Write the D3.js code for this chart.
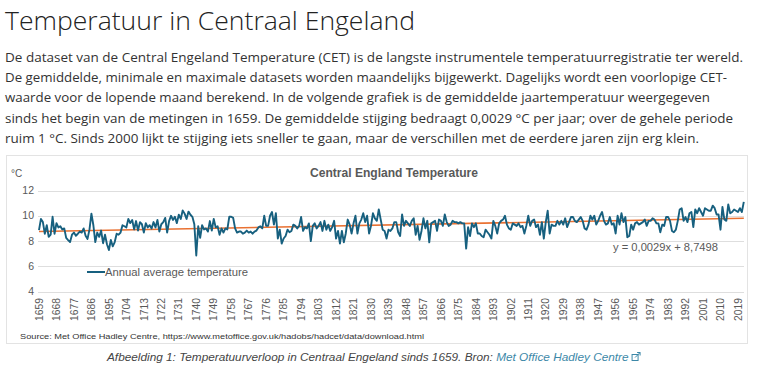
<!DOCTYPE html>
<html>
<head>
<meta charset="utf-8">
<script src="https://cdn.jsdelivr.net/npm/d3@7"></script>
<style>
  html, body { margin: 0; padding: 0; background: #fff; }
  svg { display: block; }
</style>
</head>
<body>
<div id="page"></div>
<script>
// jaren en jaargemiddelden (CET)
var firstYear = 1659;
var temps = [
  8.87, 9.75, 9.50, 8.58, 9.25, 8.33, 8.50, 9.92, 8.58, 9.42,   // 1659-1668
  9.08, 9.17, 8.92, 9.00, 8.25, 8.08, 7.92, 8.50, 8.67, 8.42,   // 1669-1678
  8.58, 8.75, 8.67, 9.00, 8.42, 8.17, 8.92, 10.17, 9.25, 7.92,  // 1679-1688
  8.67, 8.33, 8.83, 7.83, 8.50, 7.75, 7.29, 8.08, 7.58, 7.92,   // 1689-1698
  8.58, 8.50, 8.67, 9.25, 9.17, 9.08, 9.75, 9.42, 9.67, 8.92,   // 1699-1708
  9.58, 8.83, 9.50, 9.33, 8.67, 9.42, 9.08, 9.25, 9.00, 9.50,   // 1709-1718
  9.08, 9.67, 8.75, 9.33, 9.50, 9.83, 8.67, 9.58, 10.00, 9.67,  // 1719-1728
  9.92, 9.42, 10.08, 9.75, 10.42, 10.17, 9.75, 10.33, 10.08, 9.92, // 1729-1738
  9.33, 6.86, 9.17, 8.25, 9.25, 8.92, 9.00, 8.75, 9.58, 8.83,   // 1739-1748
  9.75, 9.08, 9.17, 8.50, 9.00, 8.67, 9.00, 8.92, 9.92, 9.92,   // 1749-1758
  9.83, 9.00, 8.67, 8.75, 8.75, 8.58, 8.67, 8.83, 8.67, 8.75,   // 1759-1768
  8.58, 8.75, 8.83, 9.08, 9.17, 9.00, 10.00, 9.20, 9.20, 10.00, // 1769-1778
  10.30, 9.30, 10.20, 8.20, 8.90, 7.80, 8.20, 8.40, 8.90, 8.70, // 1779-1788
  8.80, 9.30, 9.20, 9.00, 9.20, 9.90, 8.80, 9.10, 9.00, 9.40,   // 1789-1798
  8.00, 9.20, 9.40, 9.00, 9.20, 9.50, 8.80, 9.60, 8.90, 9.30,   // 1799-1808
  8.80, 9.10, 9.60, 8.20, 8.80, 7.80, 8.80, 7.90, 8.60, 9.70,   // 1809-1818
  9.30, 8.60, 9.40, 10.00, 8.60, 9.40, 9.70, 10.20, 9.50, 10.00, // 1819-1828
  8.60, 9.20, 10.20, 9.80, 9.60, 10.50, 9.70, 8.90, 8.80, 8.20, // 1829-1838
  8.90, 8.80, 9.00, 9.50, 9.50, 8.70, 8.40, 10.10, 9.20, 9.60,  // 1839-1848
  9.40, 9.20, 9.60, 9.80, 8.50, 9.20, 8.10, 8.80, 9.80, 9.00,   // 1849-1858
  9.60, 7.90, 9.40, 9.50, 9.60, 8.80, 9.70, 9.60, 9.20, 10.10,  // 1859-1868
  9.50, 9.20, 9.30, 9.60, 9.50, 9.50, 9.40, 9.50, 9.40, 9.40,   // 1869-1878
  7.40, 9.10, 8.40, 9.40, 9.10, 9.40, 8.60, 8.60, 8.40, 8.30,   // 1879-1888
  8.90, 8.70, 8.50, 8.20, 9.60, 9.20, 8.60, 9.40, 9.60, 9.70,   // 1889-1898
  10.00, 9.30, 9.00, 8.90, 9.40, 9.30, 9.20, 9.40, 9.10, 9.20,  // 1899-1908
  8.60, 9.20, 10.00, 9.20, 9.60, 9.70, 9.10, 9.30, 8.50, 9.50,  // 1909-1918
  8.20, 9.50, 10.40, 8.60, 9.30, 9.20, 9.20, 9.60, 9.30, 9.60,  // 1919-1928
  9.30, 9.80, 9.10, 9.50, 9.90, 9.90, 9.60, 9.50, 9.70, 9.90,   // 1929-1938
  9.60, 9.00, 8.90, 9.30, 10.00, 9.70, 10.00, 9.30, 9.60, 10.00, // 1939-1948
  10.30, 9.60, 9.30, 9.40, 9.90, 9.30, 9.40, 8.60, 10.00, 9.30, // 1949-1958
  10.20, 9.50, 9.90, 8.30, 8.40, 9.30, 8.90, 9.40, 9.50, 9.30,  // 1959-1968
  9.40, 9.50, 9.70, 9.20, 9.60, 9.60, 9.80, 9.70, 9.40, 9.40,   // 1969-1978
  8.70, 9.30, 9.20, 9.90, 9.90, 9.60, 8.80, 8.70, 8.90, 9.60,   // 1979-1988
  10.50, 10.60, 9.60, 9.90, 9.50, 10.20, 10.30, 9.10, 10.50, 10.20, // 1989-1998
  10.60, 10.30, 10.00, 10.60, 10.50, 10.40, 10.40, 10.80, 10.60, 10.10, // 1999-2008
  10.10, 8.90, 10.70, 9.70, 9.60, 10.90, 10.20, 10.30, 10.50, 10.40, // 2009-2018
  10.30, 10.60, 10.30, 11.10                                    // 2019-2022
];
var years = temps.map(function(d, i) { return firstYear + i; });

var yTicks = [4, 6, 8, 10, 12];
var xTicks = d3.range(1659, 2020, 9);
var trendSlope = 0.0029, trendIntercept = 8.7498;

var introLines = [
  "De dataset van de Central Engeland Temperature (CET) is de langste instrumentele temperatuurregistratie ter wereld.",
  "De gemiddelde, minimale en maximale datasets worden maandelijks bijgewerkt. Dagelijks wordt een voorlopige CET-",
  "waarde voor de lopende maand berekend. In de volgende grafiek is de gemiddelde jaartemperatuur weergegeven",
  "sinds het begin van de metingen in 1659. De gemiddelde stijging bedraagt 0,0029 °C per jaar; over de gehele periode",
  "ruim 1 °C. Sinds 2000 lijkt te stijging iets sneller te gaan, maar de verschillen met de eerdere jaren zijn erg klein."
];
var introWidths = [738, 722, 705, 728, 694];

var svg = d3.select("#page").append("svg")
    .attr("width", 761)
    .attr("height", 383);

// paginatitel
svg.append("text")
    .attr("x", 5).attr("y", 30)
    .attr("font-family", "Open Sans")
    .attr("font-weight", 300)
    .attr("font-size", 25)
    .attr("fill", "#222")
    .attr("textLength", 410)
    .attr("lengthAdjust", "spacingAndGlyphs")
    .text("Temperatuur in Centraal Engeland");

// tekstblok
svg.selectAll(".intro")
  .data(introLines)
  .enter().append("text")
    .attr("class", "intro")
    .attr("x", 5)
    .attr("y", function(d, i) { return 62 + i * 20.2; })
    .attr("font-family", "Open Sans")
    .attr("font-size", 13.5)
    .attr("fill", "#333")
    .attr("textLength", function(d, i) { return introWidths[i]; })
    .attr("lengthAdjust", "spacingAndGlyphs")
    .text(function(d) { return d; });

// kader van de grafiek
svg.append("rect")
    .attr("x", 6.5).attr("y", 155.5)
    .attr("width", 741).attr("height", 188)
    .attr("fill", "#fff")
    .attr("stroke", "#e3e3e3");

var x = d3.scaleLinear().domain([1659, 2022]).range([39, 743.8]);
var y = d3.scaleLinear().domain([4, 12]).range([291.6, 190.5]);

var grey = "#595959";
var font = "Liberation Sans, Arial, sans-serif";

// rasterlijnen
svg.append("g")
  .selectAll("line")
  .data(yTicks)
  .enter().append("line")
    .attr("x1", 38).attr("x2", 744)
    .attr("y1", function(d) { return Math.round(y(d)) + 0.5; })
    .attr("y2", function(d) { return Math.round(y(d)) + 0.5; })
    .attr("stroke", "#dedede")
    .attr("stroke-width", 1);

// y-as labels
svg.append("g")
  .selectAll("text")
  .data(yTicks)
  .enter().append("text")
    .attr("x", 34)
    .attr("y", function(d) { return y(d) + 3.5; })
    .attr("text-anchor", "end")
    .attr("font-family", font)
    .attr("font-size", 10.5)
    .attr("fill", grey)
    .text(function(d) { return d; });

svg.append("text")
    .attr("x", 11).attr("y", 177)
    .attr("font-family", font)
    .attr("font-size", 10)
    .attr("fill", grey)
    .text("°C");

// x-as labels
svg.append("g")
  .selectAll("text")
  .data(xTicks)
  .enter().append("text")
    .attr("transform", function(d) { return "translate(" + (x(d) + 3.7) + ",298) rotate(-90)"; })
    .attr("text-anchor", "end")
    .attr("font-family", font)
    .attr("font-size", 10.3)
    .attr("fill", grey)
    .text(function(d) { return d; });

// grafiektitel
svg.append("text")
    .attr("x", 394).attr("y", 177)
    .attr("text-anchor", "middle")
    .attr("font-family", font)
    .attr("font-weight", "bold")
    .attr("font-size", 13)
    .attr("fill", grey)
    .attr("textLength", 168)
    .attr("lengthAdjust", "spacingAndGlyphs")
    .text("Central England Temperature");

// trendlijn
var trend = [years[0], years[years.length - 1]];
svg.append("path")
    .datum(trend)
    .attr("fill", "none")
    .attr("stroke", "#e97132")
    .attr("stroke-width", 1.6)
    .attr("d", d3.line()
        .x(function(d) { return x(d); })
        .y(function(d) { return y(trendSlope * (d - firstYear + 1) + trendIntercept); }));

// jaargemiddelde
var line = d3.line()
    .x(function(d, i) { return x(years[i]); })
    .y(function(d) { return y(d); });

svg.append("path")
    .datum(temps)
    .attr("fill", "none")
    .attr("stroke", "#17607f")
    .attr("stroke-width", 1.9)
    .attr("stroke-linejoin", "round")
    .attr("d", line);

// legenda
svg.append("line")
    .attr("x1", 87).attr("x2", 105)
    .attr("y1", 272).attr("y2", 272)
    .attr("stroke", "#17607f")
    .attr("stroke-width", 2);
svg.append("text")
    .attr("x", 105).attr("y", 275.5)
    .attr("font-family", font)
    .attr("font-size", 10.5)
    .attr("fill", grey)
    .attr("textLength", 143)
    .attr("lengthAdjust", "spacingAndGlyphs")
    .text("Annual average temperature");

// trendformule
svg.append("text")
    .attr("x", 613).attr("y", 250.5)
    .attr("font-family", font)
    .attr("font-size", 10.5)
    .attr("fill", grey)
    .attr("textLength", 105)
    .attr("lengthAdjust", "spacingAndGlyphs")
    .text("y = 0,0029x + 8,7498");

// bron
svg.append("text")
    .attr("x", 20).attr("y", 339)
    .attr("font-family", font)
    .attr("font-size", 8)
    .attr("fill", "#333")
    .attr("textLength", 404)
    .attr("lengthAdjust", "spacingAndGlyphs")
    .text("Source: Met Office Hadley Centre, https://www.metoffice.gov.uk/hadobs/hadcet/data/download.html");

// onderschrift
var cap = svg.append("text")
    .attr("x", 107).attr("y", 361)
    .attr("font-family", font)
    .attr("font-style", "italic")
    .attr("font-size", 11.8)
    .attr("fill", "#444");
cap.append("tspan").text("Afbeelding 1: Temperatuurverloop in Centraal Engeland sinds 1659. Bron: ");
cap.append("tspan").attr("fill", "#3d88a8").text("Met Office Hadley Centre");
var capEnd = 107 + cap.node().getComputedTextLength();

// extern-link icoontje
var icon = svg.append("g").attr("transform", "translate(" + (capEnd + 3) + ",352)").attr("fill", "none").attr("stroke", "#3d88a8").attr("stroke-width", 1);
icon.append("rect").attr("x", 0.5).attr("y", 2.5).attr("width", 6).attr("height", 6);
icon.append("path").attr("d", "M3.5,5.5 L8.5,0.5 M5.5,0.5 L8.5,0.5 L8.5,3.5");
</script>
</body>
</html>
